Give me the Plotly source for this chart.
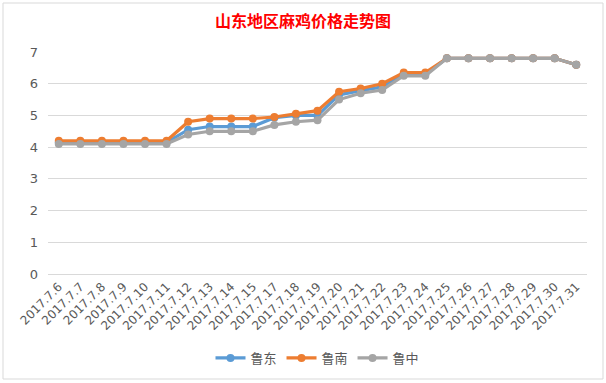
import plotly.graph_objects as go

dates = ["2017.7.6", "2017.7.7", "2017.7.8", "2017.7.9", "2017.7.10", "2017.7.11",
         "2017.7.12", "2017.7.13", "2017.7.14", "2017.7.15", "2017.7.17", "2017.7.18",
         "2017.7.19", "2017.7.20", "2017.7.21", "2017.7.22", "2017.7.23", "2017.7.24",
         "2017.7.25", "2017.7.26", "2017.7.27", "2017.7.28", "2017.7.29", "2017.7.30",
         "2017.7.31"]

ludong = [4.15, 4.15, 4.15, 4.15, 4.15, 4.15, 4.55, 4.65, 4.65, 4.65, 4.93, 5.0,
          5.0, 5.65, 5.78, 5.9, 6.3, 6.3, 6.8, 6.8, 6.8, 6.8, 6.8, 6.8, 6.6]
lunan = [4.2, 4.2, 4.2, 4.2, 4.2, 4.2, 4.8, 4.9, 4.9, 4.9, 4.95, 5.05,
         5.15, 5.75, 5.85, 6.0, 6.35, 6.35, 6.8, 6.8, 6.8, 6.8, 6.8, 6.8, 6.6]
luzhong = [4.1, 4.1, 4.1, 4.1, 4.1, 4.1, 4.4, 4.5, 4.5, 4.5, 4.7, 4.8,
           4.85, 5.5, 5.7, 5.8, 6.25, 6.25, 6.8, 6.8, 6.8, 6.8, 6.8, 6.8, 6.6]

series_names = ["鲁东", "鲁南", "鲁中"]
colors = ["#5B9BD5", "#ED7D31", "#A5A5A5"]
y_ticks = [0, 1, 2, 3, 4, 5, 6, 7]

font = "Noto Sans CJK SC, Microsoft YaHei, sans-serif"

fig = go.Figure()
for name, vals, c in zip(series_names, [ludong, lunan, luzhong], colors):
    fig.add_trace(go.Scatter(
        x=list(range(len(dates))), y=vals, name=name, mode="lines+markers",
        line=dict(color=c, width=3.2),
        marker=dict(color=c, size=8),
    ))

L, R, T, B = 48, 19, 52, 109
W, H = 606, 383
pw, ph = W - L - R, H - T - B

def px_x(x):
    return (x - L) / pw

def px_y(y):
    return (H - B - y) / ph

fig.update_layout(
    width=W, height=H,
    margin=dict(l=L, r=R, t=T, b=B, autoexpand=False),
    paper_bgcolor="white", plot_bgcolor="white",
    font=dict(family=font, color="#595959", size=12),
    title=dict(text="<b>山东地区麻鸡价格走势图</b>", x=0.5, xanchor="center",
               y=1 - 21 / H, yanchor="middle",
               font=dict(family=font, color="#FF0000", size=16)),
    xaxis=dict(tickmode="array", tickvals=list(range(len(dates))), ticktext=dates,
               range=[-0.5, len(dates) - 0.5], tickangle=-45, showgrid=False,
               showline=True, linecolor="#D9D9D9", linewidth=1, ticks="",
               zeroline=False, automargin=False,
               tickfont=dict(family="DejaVu Sans, sans-serif", size=12, color="#595959")),
    yaxis=dict(range=[0, 7], tickvals=y_ticks, showgrid=True, gridcolor="#D9D9D9",
               gridwidth=1, zeroline=False, showline=False, ticks="", automargin=False,
               tickfont=dict(family="DejaVu Sans, sans-serif", size=13, color="#595959"),
               ticklabelstandoff=9),
    legend=dict(orientation="h", x=0.5, xanchor="center", y=px_y(358), yanchor="middle",
                font=dict(size=13, color="#595959"), itemwidth=30, bgcolor="rgba(0,0,0,0)"),
    showlegend=True,
)

fig.add_shape(type="rect", xref="paper", yref="paper",
              x0=px_x(3), x1=px_x(603), y0=px_y(379), y1=px_y(3),
              line=dict(color="#D9D9D9", width=1), layer="below")

fig.write_html("out.html", config={"displayModeBar": False},
               post_script="document.body.style.margin='0';document.body.style.padding='0';")
